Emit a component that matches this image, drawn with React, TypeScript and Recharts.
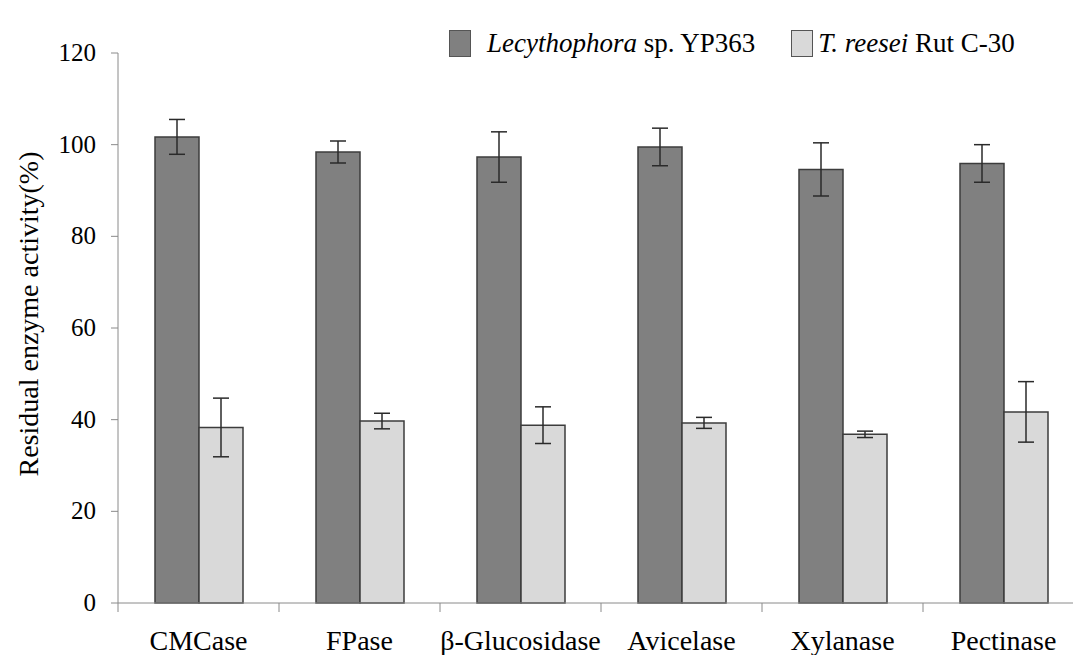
import React from 'react';
import { Bar, BarChart, ErrorBar, Legend, XAxis, YAxis } from 'recharts';

const enzymes = ['CMCase', 'FPase', 'β-Glucosidase', 'Avicelase', 'Xylanase', 'Pectinase'];
const lecythophora = [101.7, 98.4, 97.3, 99.5, 94.6, 95.9];
const lecythophoraErr = [3.8, 2.4, 5.5, 4.1, 5.8, 4.1];
const reesei = [38.3, 39.7, 38.8, 39.3, 36.8, 41.7];
const reeseiErr = [6.4, 1.7, 4.0, 1.2, 0.7, 6.6];
const yTicks = [0, 20, 40, 60, 80, 100, 120];

const data = enzymes.map((name, i) => ({
  name,
  lec: lecythophora[i],
  lecErr: lecythophoraErr[i],
  tr: reesei[i],
  trErr: reeseiErr[i],
}));

const CHART_W = 1090;
const CHART_H = 655;
const MARGIN = { top: 22, right: 6, left: 0, bottom: 0 };
const Y_AXIS_W = 118;
const X_AXIS_H = 52;
const FONT = 'Liberation Serif, Times New Roman, serif';
const AXIS_GRAY = '#8a8a8a';

const plotW = CHART_W - MARGIN.left - MARGIN.right - Y_AXIS_W;
const halfBand = plotW / enzymes.length / 2;
const axisY = CHART_H - MARGIN.bottom - X_AXIS_H;

function CategoryTick(props: any) {
  const { x, payload } = props;
  return (
    <g>
      <line x1={x - halfBand} x2={x - halfBand} y1={axisY} y2={axisY + 9} stroke={AXIS_GRAY} />
      <text x={x} y={axisY + 47} textAnchor="middle" style={{ fontFamily: FONT }} fontSize={28} fill="#000">
        {payload.value}
      </text>
    </g>
  );
}

function ValueTick(props: any) {
  const { x, y, payload } = props;
  return (
    <text x={x} y={y} dy={8} textAnchor="end" style={{ fontFamily: FONT }} fontSize={25} fill="#000">
      {payload.value}
    </text>
  );
}

function LegendBox({ fill }: { fill: string }) {
  return (
    <span
      style={{
        display: 'inline-block',
        width: 20,
        height: 25,
        background: fill,
        border: '1px solid #555',
        verticalAlign: 'middle',
      }}
    />
  );
}

function ChartLegend() {
  return (
    <div style={{ fontFamily: FONT, fontSize: 27, color: '#000', whiteSpace: 'nowrap', display: 'flex', alignItems: 'center' }}>
      <LegendBox fill="#808080" />
      <span style={{ marginLeft: 16 }}>
        <i>Lecythophora</i> sp. YP363
      </span>
      <span style={{ marginLeft: 36 }} />
      <LegendBox fill="#d9d9d9" />
      <span style={{ marginLeft: 5 }}>
        <i>T. reesei</i> Rut C-30
      </span>
    </div>
  );
}

export default function App() {
  return (
    <div style={{ position: 'absolute', left: 0, top: 0, width: 1073, height: 655, overflow: 'hidden', background: '#fff' }}>
      <BarChart width={CHART_W} height={CHART_H} data={data} margin={MARGIN} barSize={44} barGap={0}>
        <XAxis
          dataKey="name"
          height={X_AXIS_H}
          tickLine={false}
          axisLine={{ stroke: AXIS_GRAY }}
          tick={<CategoryTick />}
          interval={0}
        />
        <YAxis
          width={Y_AXIS_W}
          domain={[0, 120]}
          ticks={yTicks}
          interval={0}
          tickSize={7}
          tickMargin={15}
          axisLine={{ stroke: AXIS_GRAY }}
          tickLine={{ stroke: AXIS_GRAY }}
          tick={<ValueTick />}
          label={{
            value: 'Residual enzyme activity(%)',
            angle: -90,
            position: 'center',
            dx: -31,
            dy: -14,
            style: { fontFamily: FONT, fontSize: 28, fill: '#000' },
          }}
        />
        <Legend
          verticalAlign="top"
          content={<ChartLegend />}
          wrapperStyle={{ top: 28, left: 449, width: 'auto' }}
        />
        <Bar dataKey="lec" fill="#808080" stroke="#3c3c3c" strokeWidth={1.5} isAnimationActive={false}>
          <ErrorBar dataKey="lecErr" width={8} stroke="#2a2a2a" strokeWidth={1.5} isAnimationActive={false} />
        </Bar>
        <Bar dataKey="tr" fill="#d9d9d9" stroke="#3c3c3c" strokeWidth={1.5} isAnimationActive={false}>
          <ErrorBar dataKey="trErr" width={8} stroke="#2a2a2a" strokeWidth={1.5} isAnimationActive={false} />
        </Bar>
      </BarChart>
    </div>
  );
}
